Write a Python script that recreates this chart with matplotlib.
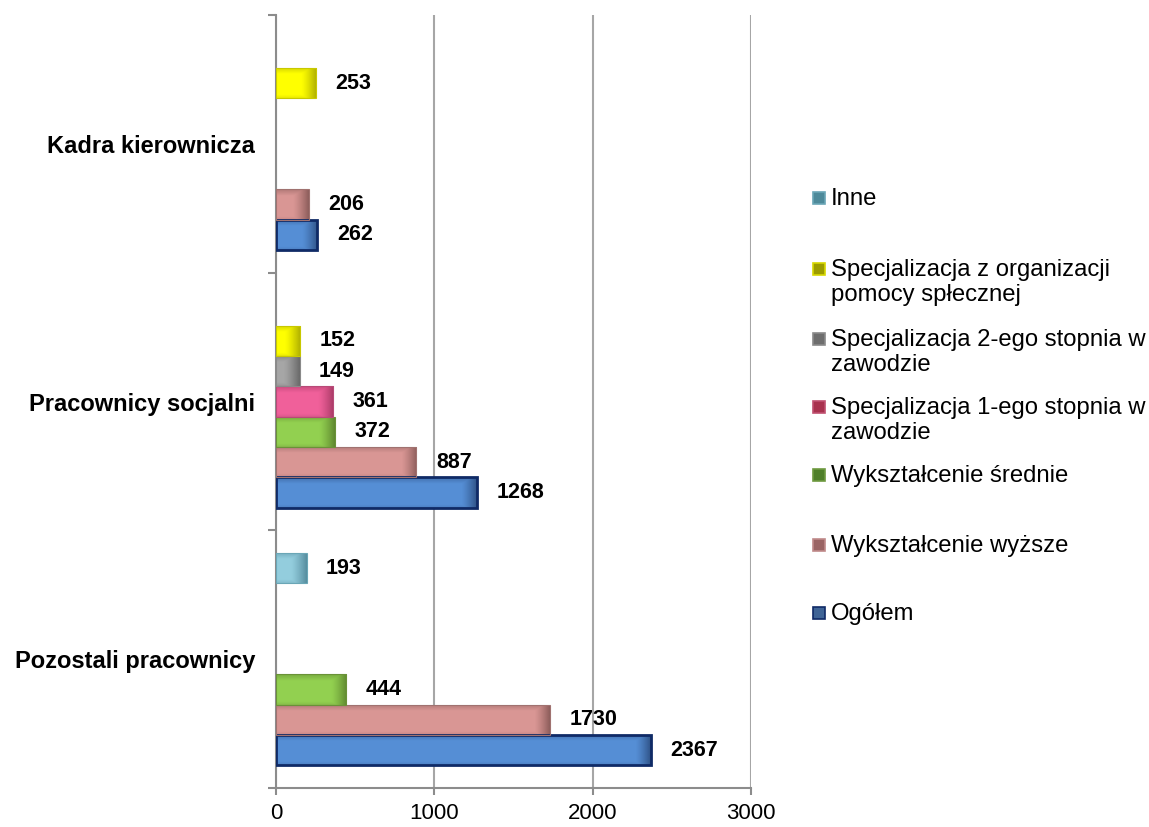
import matplotlib

matplotlib.use("Agg")
import matplotlib.pyplot as plt
from matplotlib.colors import to_rgb
from matplotlib.patches import Rectangle
import numpy as np

plt.rcParams["font.family"] = ["Liberation Sans", "DejaVu Sans"]

categories = ["Pozostali pracownicy", "Pracownicy socjalni", "Kadra kierownicza"]
series_names = [
    "Ogółem",
    "Wykształcenie wyższe",
    "Wykształcenie średnie",
    "Specjalizacja 1-ego stopnia w\nzawodzie",
    "Specjalizacja 2-ego stopnia w\nzawodzie",
    "Specjalizacja z organizacji\npomocy spłecznej",
    "Inne",
]
ogolem = [2367, 1268, 262]
wyzsze = [1730, 887, 206]
srednie = [444, 372, None]
spec1 = [None, 361, None]
spec2 = [None, 149, None]
spec_org = [None, 152, 253]
inne = [193, None, None]
x_ticks = [0, 1000, 2000, 3000]

series = [ogolem, wyzsze, srednie, spec1, spec2, spec_org, inne]
fills = ["#558ED5", "#D99694", "#92D050", "#F0609A", "#A6A6A6", "#FFFF00", "#93CDDD"]
shades = ["#1F3A66", "#6E4644", "#4A6B22", "#8A2A50", "#505050", "#8A8A00", "#3E7385"]
edges = ["#0F2A66", "#A07270", "#6A9238", "#B84A78", "#8A8A8A", "#C8C800", "#6AA6B6"]
edge_w = [2.0, 0.8, 0.8, 0.8, 0.8, 0.8, 0.8]
legend_cols = ["#3F6496", "#9A6464", "#4F7F2A", "#A8324E", "#6E6E6E", "#9C9C00", "#4E8A9A"]
legend_edge = ["#0F2A66", "#C08A8A", "#6E9A40", "#C05070", "#8A8A8A", "#D8D800", "#6AA6B6"]

fig = plt.figure(figsize=(11.49, 8.27), dpi=100)
W, H = 1149, 827
ax = fig.add_axes([276 / W, (H - 788) / H, (751 - 276) / W, (788 - 15) / H])
ax.set_xlim(0, 3000)
ax.set_ylim(-0.5, 2.5)
px_per_unit = (751 - 276) / 3000.0
px_per_cat = (788 - 15) / 3.0


def shade_bar(patch, shade):
    # darken the right end and the top edge a little, like the excel bevel
    x0, w = patch.get_x(), patch.get_width()
    y0, bh = patch.get_y(), patch.get_height()
    nx = max(int(w * px_per_unit), 2)
    ny = max(int(bh * px_per_cat), 2)
    xs = np.arange(nx)
    ys = np.arange(ny)
    a_right = np.clip((xs - (nx - 16)) / 16.0, 0, 1) ** 1.3 * 0.75
    a_top = np.clip((6 - ys) / 6.0, 0, 1) * 0.35
    a_bot = np.clip((ys - (ny - 4)) / 4.0, 0, 1) * 0.2
    alpha = np.maximum(a_right[None, :], (a_top + a_bot)[:, None])
    img = np.zeros((ny, nx, 4))
    img[..., :3] = to_rgb(shade)
    img[..., 3] = alpha
    im = ax.imshow(img, extent=(x0, x0 + w, y0, y0 + bh), origin="upper",
                   aspect="auto", interpolation="bilinear", zorder=3.5)
    im.set_clip_path(patch)


h = 0.1177
base = np.arange(len(categories))
for j, vals in enumerate(series):
    for i, v in enumerate(vals):
        if v is None:
            continue
        y = base[i] + (j - 3) * h
        bars = ax.barh(y, v, height=h, color=fills[j], edgecolor="none", zorder=3)
        shade_bar(bars[0], shades[j])
        ax.barh(y, v, height=h, color="none", edgecolor=edges[j],
                linewidth=edge_w[j], zorder=3.8)
        ax.annotate(str(v), xy=(v, y), xytext=(14, 0), textcoords="offset points",
                    ha="left", va="center", fontsize=15.5, fontweight="bold", zorder=4)

ax.set_xlim(0, 3000)
ax.set_ylim(-0.5, 2.5)
ax.set_xticks(x_ticks)
ax.set_xticklabels([str(t) for t in x_ticks], fontsize=16)
ax.set_yticks(base)
ax.set_yticklabels(categories, fontsize=17, fontweight="bold")
ax.set_yticks([-0.5, 0.5, 1.5, 2.5], minor=True)
ax.tick_params(axis="y", which="major", length=0, pad=15)
ax.tick_params(axis="y", which="minor", length=6, width=1.5, color="#8C8C8C")
ax.tick_params(axis="x", length=5, width=1.5, color="#8C8C8C", pad=6)

ax.grid(axis="x", color="#A6A6A6", linewidth=1.5, zorder=0)
for s in ["top", "right"]:
    ax.spines[s].set_visible(False)
for s in ["left", "bottom"]:
    ax.spines[s].set_color("#8C8C8C")
    ax.spines[s].set_linewidth(1.5)

# legend, entries listed top to bottom as in the original
legend_y = [615, 547, 477, 409, 341, 271, 200]
for j, name in enumerate(series_names):
    yy = legend_y[j]
    fig.add_artist(Rectangle((813 / W, (H - yy - 4) / H), 12 / W, 12 / H,
                             transform=fig.transFigure, facecolor=legend_cols[j],
                             edgecolor=legend_edge[j], linewidth=1.2))
    fig.text(831 / W, (H - yy + 12) / H, name, fontsize=17.2, va="top", ha="left",
             linespacing=1.2)

fig.savefig("out.png", dpi=100)
plt.close(fig)
